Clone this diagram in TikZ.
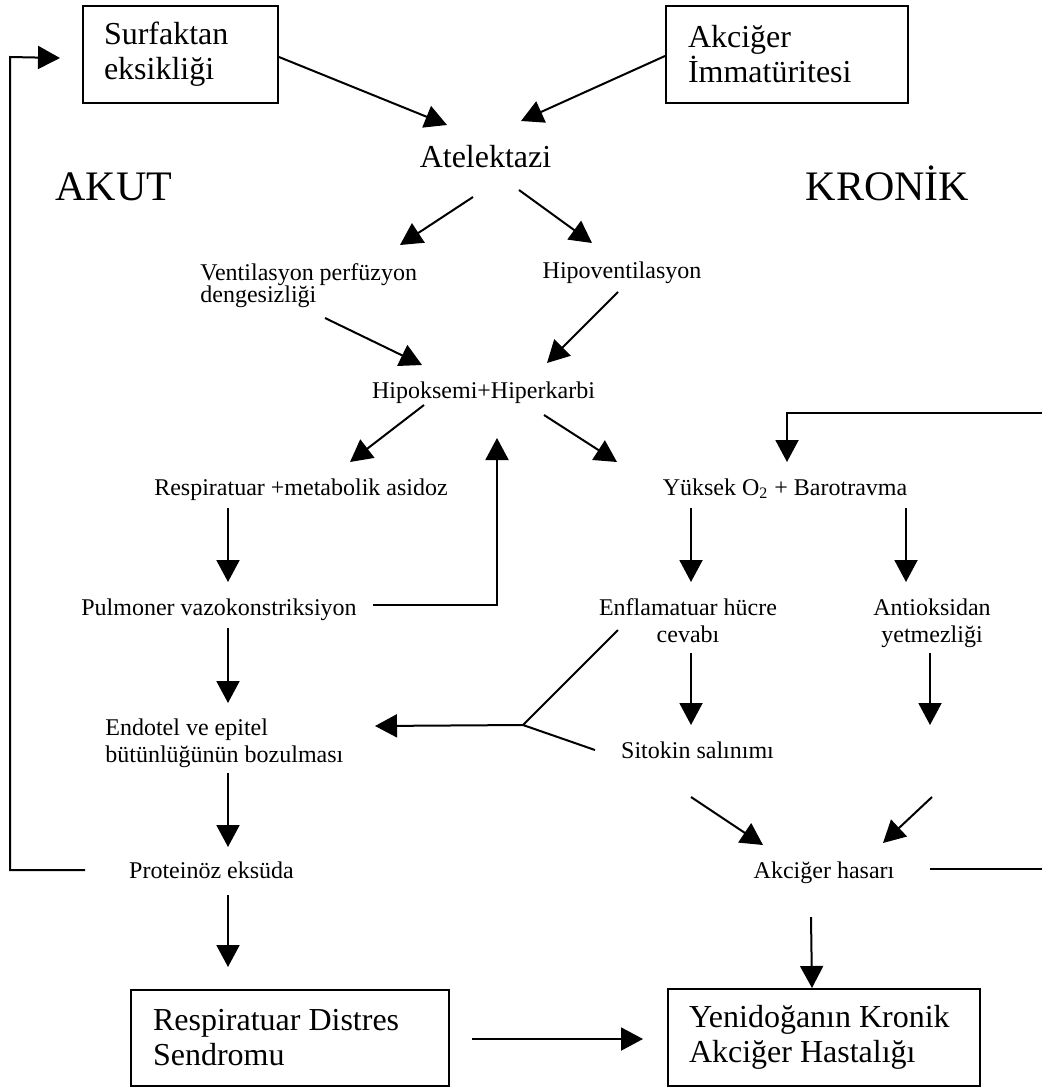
\documentclass[tikz,border=0pt]{standalone}
\usepackage{fontspec}
\setmainfont{Liberation Serif}
\usetikzlibrary{arrows.meta}

\begin{document}
\begin{tikzpicture}[x=0.5pt, y=-0.5pt,
  arr/.style={-{Triangle[length=11pt,width=11.5pt]}, line width=1pt},
  lnk/.style={line width=1pt},
  kutu/.style={draw, line width=1pt, anchor=north west, align=flush left, inner ysep=0pt,
               font=\fontsize{16}{17.5}\selectfont},
  buyuk/.style={inner sep=0pt, font=\fontsize{16}{17.5}\selectfont},
  kucuk/.style={inner sep=0pt, font=\fontsize{12}{13.5}\selectfont},
  baslik/.style={inner sep=0pt, font=\fontsize{21}{24}\selectfont}]
\useasboundingbox (0,0) rectangle (1042,1087);
\clip (0,0) rectangle (1042,1087);

% kutular
\node[kutu, minimum width=97.5pt, minimum height=48.5pt, inner xsep=10.5pt, text width=76.5pt] (surf) at (82,5) {Surfaktan\\eksikliği};
\node[kutu, minimum width=121pt, minimum height=48.5pt, inner xsep=11pt, text width=99pt] (akc) at (665,5) {Akciğer\\İmmatüritesi};
\node[kutu, minimum width=159pt, minimum height=48pt, inner xsep=11pt, text width=137pt] (rds) at (130,989) {Respiratuar Distres\\Sendromu};
\node[kutu, minimum width=156pt, minimum height=48.5pt, inner xsep=10.5pt, text width=135pt] (yeni) at (667,988) {Yenidoğanın Kronik\\Akciğer Hastalığı};

% metinler
\node[buyuk, anchor=base] (atel) at (485.5,167) {Atelektazi};
\node[baslik, anchor=base] (akut) at (114,200) {AKUT};
\node[baslik, anchor=base] (kron) at (887.5,200) {KRONİK};
\node[kucuk, anchor=base west, text width=115pt, align=flush left, font=\fontsize{12}{11}\selectfont] (vent) at (200,280) {Ventilasyon perfüzyon\\dengesizliği};
\node[kucuk, anchor=base] (hipov) at (622,278) {Hipoventilasyon};
\node[kucuk, anchor=base] (hipok) at (483.5,398) {Hipoksemi+Hiperkarbi};
\node[kucuk, anchor=base] (resp) at (301,495) {Respiratuar +metabolik asidoz};
\node[kucuk, anchor=base] (pulm) at (219,615) {Pulmoner vazokonstriksiyon};
\node[kucuk, anchor=base west, text width=125pt, align=flush left] (endo) at (105,735) {Endotel ve epitel\\bütünlüğünün bozulması};
\node[kucuk, anchor=base] (prot) at (211.5,878) {Proteinöz eksüda};
\node[kucuk, anchor=base] (yuks) at (785,495) {Yüksek O\textsubscript{2} + Barotravma};
\node[kucuk, anchor=base, text width=100pt, align=flush center] (enfl) at (688,615) {Enflamatuar hücre\\cevabı};
\node[kucuk, anchor=base, text width=70pt, align=flush center] (anti) at (932,615) {Antioksidan\\yetmezliği};
\node[kucuk, anchor=base] (sito) at (697.5,758) {Sitokin salınımı};
\node[kucuk, anchor=base] (hasar) at (824,878) {Akciğer hasarı};

\coordinate (kavsak) at (523,725);
\coordinate (solhat) at (10,57);
\coordinate (saghat) at (1060,413);
\coordinate (antiuc) at (930,725);
\coordinate (hasarbas) at (932,797);

% akut taraf
\draw[arr] ([shift={(0,2.5)}]surf.east) -- ([shift={(-38.5,-42)}]atel.base);
\draw[arr] ([shift={(0,1.5)}]akc.west) -- ([shift={(35.5,-46)}]atel.base);
\draw[arr] ([shift={(-12.5,30)}]atel.base) -- ([shift={(200,-35)}]vent.base west);
\draw[arr] ([shift={(33.5,23)}]atel.base) -- ([shift={(-30,-35)}]hipov.base);
\draw[arr] ([shift={(125,38)}]vent.base west) -- ([shift={(-61.5,-33)}]hipok.base);
\draw[arr] ([shift={(-4,14)}]hipov.base) -- ([shift={(63.5,-35)}]hipok.base);
\draw[arr] ([shift={(-59.5,7)}]hipok.base) -- ([shift={(49,-33)}]resp.base);
\draw[arr] ([shift={(60.5,17)}]hipok.base) -- ([shift={(-168,-33)}]yuks.base);
\draw[arr] ([shift={(-73,13)}]resp.base) -- ([shift={(9,-33)}]pulm.base);
\draw[arr] ([shift={(154,-10)}]pulm.base) -| ([shift={(13.5,40)}]hipok.base);
\draw[arr] ([shift={(9,13)}]pulm.base) -- ([shift={(123,-32)}]endo.base west);
\draw[arr] ([shift={(123,38)}]endo.base west) -- ([shift={(16.5,-31)}]prot.base);
\draw[arr] ([shift={(16.5,17)}]prot.base) -- ([shift={(98,-22)}]rds.north west);
\draw[arr] ([shift={(-126.5,-8)}]prot.base) -| (solhat) -- ([shift={(-22,3.5)}]surf.west);
\draw[arr] ([shift={(22,1)}]rds.east) -- ([shift={(-24,1.5)}]yeni.west);

% kronik taraf
\draw[arr] ([shift={(-94,13)}]yuks.base) -- ([shift={(3,-33)}]enfl.base);
\draw[arr] ([shift={(121,13)}]yuks.base) -- ([shift={(-26,-33)}]anti.base);
\draw[arr] ([shift={(3,38)}]enfl.base) -- ([shift={(-6.5,-33)}]sito.base);
\draw[arr] ([shift={(-2,38)}]anti.base) -- (antiuc);
\draw[lnk] ([shift={(-70,15)}]enfl.base) -- (kavsak) -- ([shift={(-102.5,-8)}]sito.base);
\draw[arr] (kavsak) -- ([shift={(270,-9)}]endo.base west);
\draw[arr] ([shift={(-6.5,39)}]sito.base) -- ([shift={(-61,-33)}]hasar.base);
\draw[arr] (hasarbas) -- ([shift={(59,-35)}]hasar.base);
\draw[arr] ([shift={(-13,39)}]hasar.base) -- ([shift={(-12,0)}]yeni.north);
\draw[arr] ([shift={(106,-9)}]hasar.base) -| (saghat) -| ([shift={(2,-33)}]yuks.base);
\end{tikzpicture}
\end{document}
